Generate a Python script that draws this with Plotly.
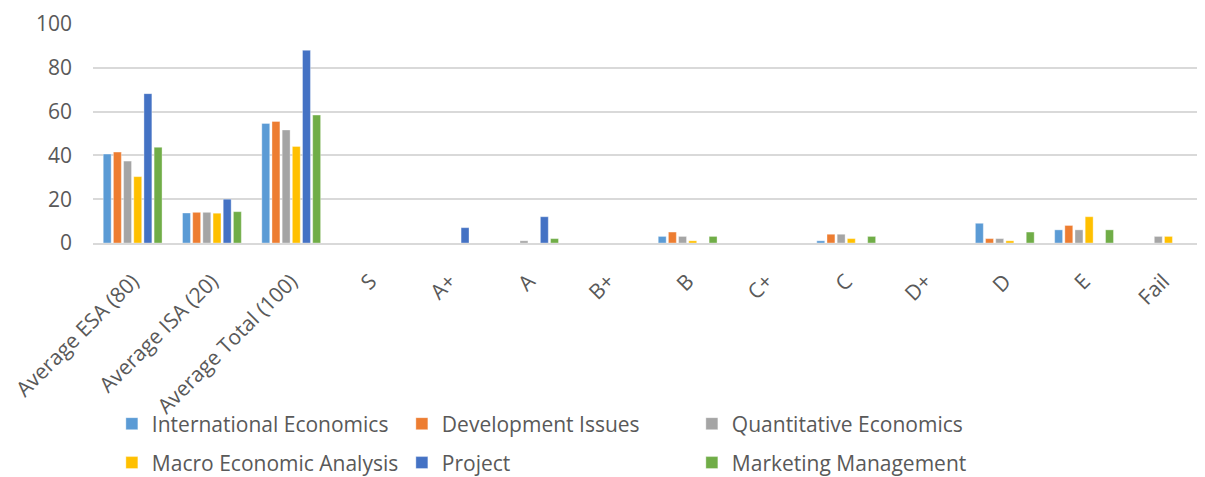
import plotly.graph_objects as go

categories = ["Average ESA (80)", "Average ISA (20)", "Average Total (100)", "S", "A+", "A",
              "B+", "B", "C+", "C", "D+", "D", "E", "Fail"]

international_economics = [40.6, 13.7, 54.6, 0, 0, 0, 0, 3, 0, 1, 0, 9, 6, 0]
development_issues      = [41.5, 14.0, 55.5, 0, 0, 0, 0, 5, 0, 4, 0, 2, 8, 0]
quantitative_economics  = [37.4, 14.0, 51.6, 0, 0, 1, 0, 3, 0, 4, 0, 2, 6, 3]
macro_economic_analysis = [30.3, 13.6, 44.1, 0, 0, 0, 0, 1, 0, 2, 0, 1, 12, 3]
project                 = [68.2, 20.0, 88.0, 0, 7, 12, 0, 0, 0, 0, 0, 0, 0, 0]
marketing_management    = [43.7, 14.3, 58.4, 0, 0, 2, 0, 3, 0, 3, 0, 5, 6, 0]

series = [
    ("International Economics", international_economics, "#5B9BD5", "legend"),
    ("Development Issues", development_issues, "#ED7D31", "legend"),
    ("Quantitative Economics", quantitative_economics, "#A5A5A5", "legend"),
    ("Macro Economic Analysis", macro_economic_analysis, "#FFC000", "legend2"),
    ("Project", project, "#4472C4", "legend2"),
    ("Marketing Management", marketing_management, "#70AD47", "legend2"),
]

fig = go.Figure()
for name, vals, color, leg in series:
    fig.add_trace(go.Bar(
        x=categories, y=vals, name=name, legend=leg,
        marker=dict(color=color, line=dict(color="rgba(255,255,255,0.6)", width=0.6)),
    ))

font_family = "Open Sans, Liberation Sans, sans-serif"
legend_common = dict(
    orientation="h", x=0.017, xanchor="left", yanchor="middle", yref="container",
    entrywidth=245, entrywidthmode="pixels",
    font=dict(size=21, color="#595959"),
    itemwidth=30, bgcolor="rgba(0,0,0,0)",
)
fig.update_layout(
    width=1197, height=469,
    margin=dict(l=85, r=2, t=16, b=234, autoexpand=False),
    paper_bgcolor="white", plot_bgcolor="white",
    barmode="group", bargap=0.23, bargroupgap=0.22,
    font=dict(family=font_family, size=21, color="#595959"),
    showlegend=True,
    legend=dict(y=0.113, **legend_common),
    legend2=dict(y=0.030, **legend_common),
    xaxis=dict(
        tickangle=-45, tickfont=dict(size=21, color="#595959"),
        showline=True, linecolor="#D9D9D9", linewidth=1.5,
        showgrid=False, ticks="", ticklabelstandoff=16,
    ),
    yaxis=dict(
        range=[0, 100], tickvals=[0, 20, 40, 60, 80, 100],
        tickfont=dict(size=21, color="#595959"),
        showgrid=True, gridcolor="#D9D9D9", gridwidth=1.5,
        zeroline=False, showline=False, ticks="", ticklabelstandoff=20,
    ),
)

fig.write_html("out.html")
